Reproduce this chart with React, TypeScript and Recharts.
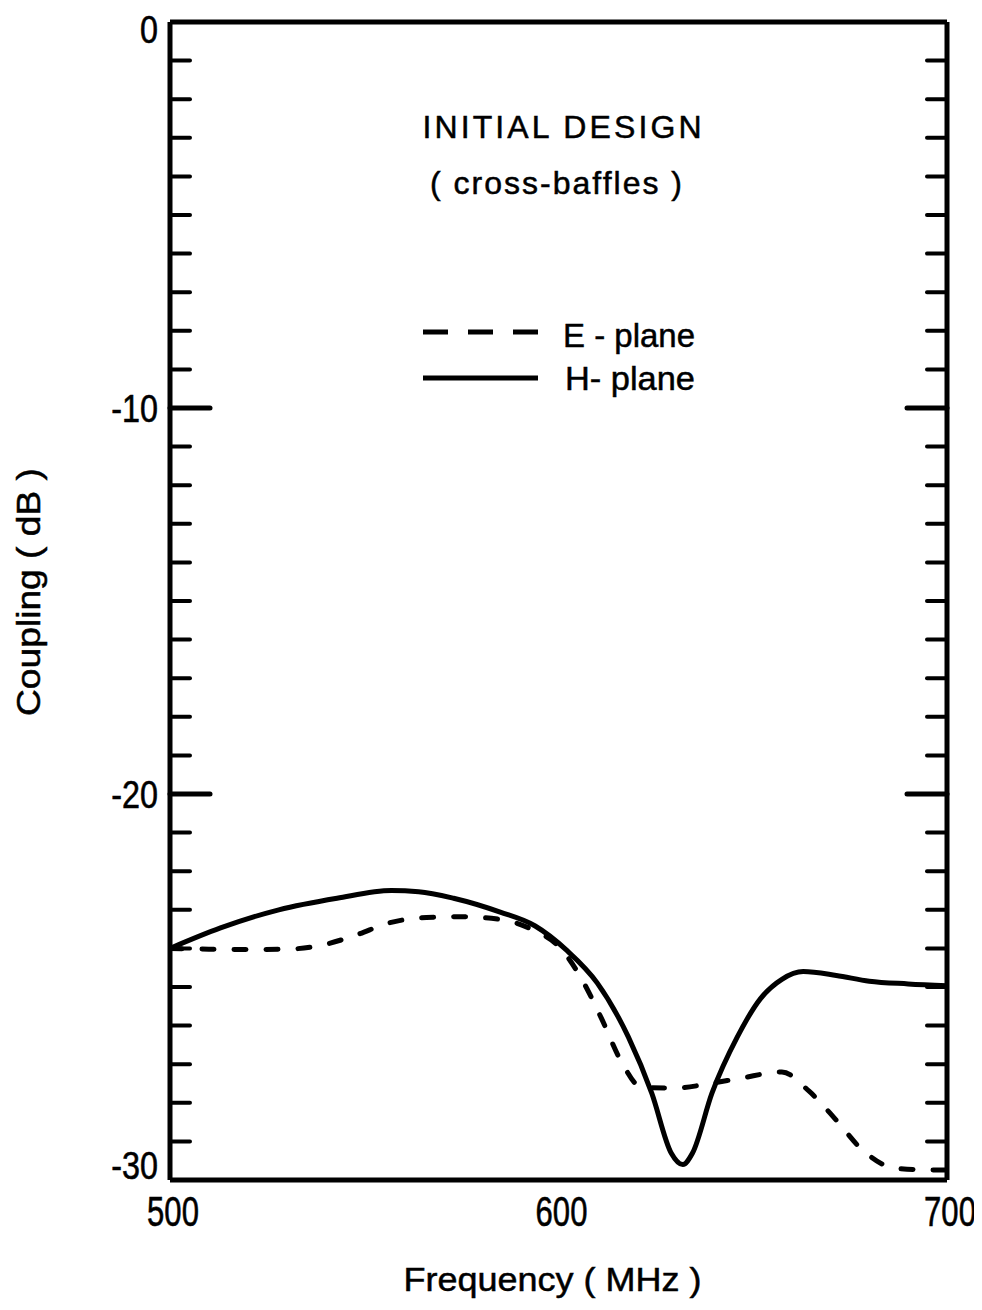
import React from "react";
import { LineChart, Line, XAxis, YAxis, Legend } from "recharts";

// measured coupling, H-plane (solid)
const H_FREQ = [500, 513, 528, 543, 557, 564, 573, 585, 594, 602, 610, 618, 624, 629, 632, 634.5, 639.5, 646, 652, 657.5, 663, 671.5, 680, 690, 700];
const H_DB = [-24.0, -23.47, -23.0, -22.7, -22.5, -22.53, -22.7, -23.06, -23.42, -24.04, -24.9, -26.3, -27.75, -29.3, -29.6, -29.3, -27.75, -26.3, -25.3, -24.8, -24.6, -24.7, -24.85, -24.92, -24.97];

// measured coupling, E-plane (dashed)
const E_FREQ = [500, 510, 520, 530, 538, 548, 556, 566, 575, 585, 593, 601, 606, 611, 616, 621.5, 630, 639, 647, 657.5, 664.5, 671.5, 678, 687, 697, 700];
const E_DB = [-24.0, -24.02, -24.03, -24.02, -23.94, -23.65, -23.35, -23.2, -23.18, -23.25, -23.5, -24.05, -24.8, -25.8, -26.9, -27.6, -27.62, -27.5, -27.36, -27.2, -27.7, -28.45, -29.2, -29.7, -29.74, -29.74];

const FREQ_LABELS = [500, 600, 700];
const DB_LABELS = [0, -10, -20, -30];
const FREQ_MARKS = [510, 520, 530, 540, 550, 560, 570, 580, 590, 600, 610, 620, 630, 640, 650, 660, 670, 680, 690];
const DB_MARKS = [-1, -2, -3, -4, -5, -6, -7, -8, -9, -10, -11, -12, -13, -14, -15, -16, -17, -18, -19, -20, -21, -22, -23, -24, -25, -26, -27, -28, -29];
const MAJOR_MARKS = [600, -10, -20];

const hData = H_FREQ.map((f, i) => ({ f, db: H_DB[i] }));
const eData = E_FREQ.map((f, i) => ({ f, db: E_DB[i] }));

const FONT = "'Liberation Sans', Arial, sans-serif";
const INK = "#000";

// inward tick marks drawn from the frame edge
const markTick = (side: "top" | "bottom" | "left" | "right") => (props: any) => {
  const { x, y, payload } = props;
  const major = MAJOR_MARKS.includes(payload.value);
  const len = major ? 40 : 20;
  let x2 = x;
  let y2 = y;
  if (side === "top") y2 = y + len;
  if (side === "bottom") y2 = y - len;
  if (side === "left") x2 = x + len;
  if (side === "right") x2 = x - len;
  return <line x1={x} y1={y} x2={x2} y2={y2} stroke={INK} strokeWidth={major ? 5 : 4} strokeLinecap="round" />;
};

const FreqLabel = (props: any) => {
  const { x, y, payload } = props;
  return (
    <text
      transform={`translate(${x + 3} ${y}) scale(0.74 1)`}
      textAnchor="middle"
      dy="0.71em"
      fontSize={42}
      fontFamily={FONT}
      fill={INK}
      stroke={INK}
      strokeWidth={0.6}
    >
      {payload.value}
    </text>
  );
};

const DbLabel = (props: any) => {
  const { x, y, payload } = props;
  // the end labels sit just inside the frame corners
  const shift = payload.value === 0 ? 7 : payload.value === -30 ? -15 : 0;
  return (
    <text
      transform={`translate(${x} ${y + shift}) scale(0.85 1)`}
      textAnchor="end"
      dy="0.36em"
      fontSize={38}
      fontFamily={FONT}
      fill={INK}
      stroke={INK}
      strokeWidth={0.6}
    >
      {payload.value}
    </text>
  );
};

const XTitle = (props: any) => {
  const { x, width } = props.viewBox;
  return (
    <text x={x + width / 2 - 6} y={1283} textAnchor="middle" fontSize={33} fontFamily={FONT} textLength={298} lengthAdjust="spacingAndGlyphs" fill={INK} stroke={INK} strokeWidth={0.5}>
      Frequency ( MHz )
    </text>
  );
};

const YTitle = (props: any) => {
  const { x, y, height } = props.viewBox;
  const cx = x + 32;
  const cy = y + height / 2 - 9;
  return (
    <text x={cx} y={cy} transform={`rotate(-90 ${cx} ${cy})`} textAnchor="middle" fontSize={33} fontFamily={FONT} textLength={248} lengthAdjust="spacingAndGlyphs" fill={INK} stroke={INK} strokeWidth={0.5}>
      Coupling ( dB )
    </text>
  );
};

const LegendBox = () => (
  <svg width={320} height={110}>
    <line x1={8} x2={123} y1={32} y2={32} stroke={INK} strokeWidth={5} strokeDasharray="25 20" />
    <text x={148} y={47} fontSize={34} fontFamily={FONT} textLength={132} lengthAdjust="spacingAndGlyphs" fill={INK} stroke={INK} strokeWidth={0.5}>
      E - plane
    </text>
    <line x1={8} x2={123} y1={78} y2={78} stroke={INK} strokeWidth={5} />
    <text x={150} y={90} fontSize={34} fontFamily={FONT} textLength={130} lengthAdjust="spacingAndGlyphs" fill={INK} stroke={INK} strokeWidth={0.5}>
      H- plane
    </text>
  </svg>
);

const axisLine = { stroke: INK, strokeWidth: 5 };

export default function App() {
  return (
    <div style={{ position: "relative", width: 974, height: 1300 }}>
      <LineChart width={974} height={1300} margin={{ top: 14, right: 35, bottom: 28, left: 0 }}>
        <XAxis
          xAxisId="f"
          type="number"
          dataKey="f"
          domain={[500, 700]}
          allowDataOverflow
          ticks={FREQ_LABELS}
          interval={0}
          height={100}
          tickSize={0}
          tickMargin={16}
          tickLine={false}
          axisLine={axisLine}
          tick={FreqLabel}
          label={{ content: XTitle }}
        />
        <XAxis xAxisId="fTop" orientation="top" mirror type="number" domain={[500, 700]} allowDataOverflow ticks={FREQ_MARKS} interval={0} tickSize={0} tickMargin={0} tickLine={false} axisLine={axisLine} tick={markTick("top")} />
        <XAxis xAxisId="fBottom" orientation="bottom" mirror type="number" domain={[500, 700]} allowDataOverflow ticks={FREQ_MARKS} interval={0} tickSize={0} tickMargin={0} tickLine={false} axisLine={false} tick={markTick("bottom")} />
        <YAxis
          yAxisId="db"
          type="number"
          domain={[-30, 0]}
          allowDataOverflow
          ticks={DB_LABELS}
          interval={0}
          width={162}
          tickSize={0}
          tickMargin={12}
          tickLine={false}
          axisLine={axisLine}
          tick={DbLabel}
          label={{ content: YTitle }}
        />
        <YAxis yAxisId="dbLeft" orientation="left" mirror type="number" domain={[-30, 0]} allowDataOverflow ticks={DB_MARKS} interval={0} tickSize={0} tickMargin={0} tickLine={false} axisLine={false} tick={markTick("left")} />
        <YAxis yAxisId="dbRight" orientation="right" mirror type="number" domain={[-30, 0]} allowDataOverflow ticks={DB_MARKS} interval={0} tickSize={0} tickMargin={0} tickLine={false} axisLine={axisLine} tick={markTick("right")} />
        <Legend
          layout="horizontal"
          verticalAlign="middle"
          align="center"
          content={LegendBox}
          wrapperStyle={{ left: 407, top: 292, width: 320, height: 110 }}
        />
        <Line
          xAxisId="f"
          yAxisId="db"
          data={eData}
          dataKey="db"
          name="E-plane"
          type="monotone"
          stroke={INK}
          strokeWidth={5}
          strokeDasharray="12 20"
          strokeLinecap="round"
          dot={false}
          isAnimationActive={false}
        />
        <Line
          xAxisId="f"
          yAxisId="db"
          data={hData}
          dataKey="db"
          name="H-plane"
          type="monotone"
          stroke={INK}
          strokeWidth={5}
          dot={false}
          isAnimationActive={false}
        />
      </LineChart>
      <svg width={974} height={1300} style={{ position: "absolute", left: 0, top: 0, pointerEvents: "none" }}>
        <text x={554} y={130} textAnchor="middle" fontSize={32} fontFamily={FONT} textLength={279} lengthAdjust="spacing" fill={INK} stroke={INK} strokeWidth={0.5}>
          INITIAL DESIGN
        </text>
        <text x={548} y={186} textAnchor="middle" fontSize={32} fontFamily={FONT} textLength={252} lengthAdjust="spacing" fill={INK} stroke={INK} strokeWidth={0.5}>
          ( cross-baffles )
        </text>
      </svg>
    </div>
  );
}
